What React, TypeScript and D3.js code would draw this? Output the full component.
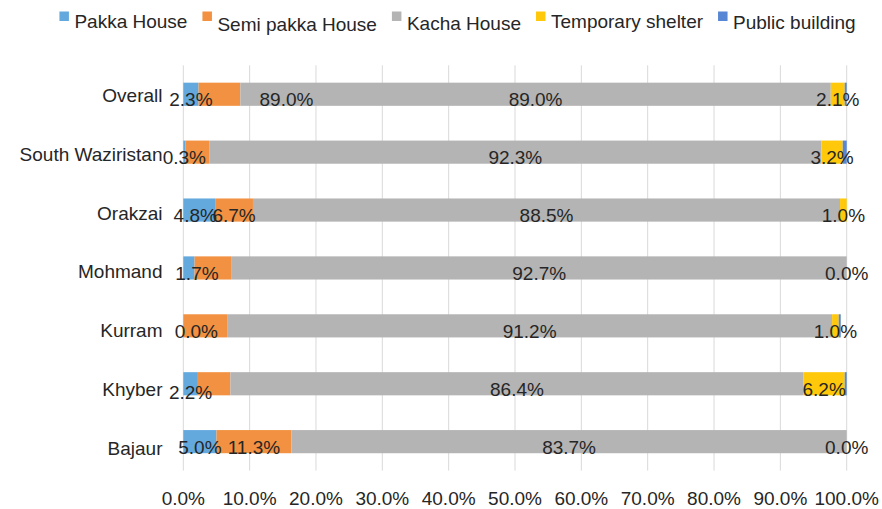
import React, { useEffect, useRef } from "react";
import * as d3 from "d3";

const width = 882;
const height = 509;

const categories = ["Overall", "South Waziristan", "Orakzai", "Mohmand", "Kurram", "Khyber", "Bajaur"];
const seriesNames = ["Pakka House", "Semi pakka House", "Kacha House", "Temporary shelter", "Public building"];
const colors = ["#64a9de", "#f29141", "#b4b4b4", "#ffc80a", "#5686d4"];

// percent of households per house type
const pakka = [2.3, 0.3, 4.8, 1.7, 0.0, 2.2, 5.0];
const semiPakka = [6.3, 3.6, 5.7, 5.6, 6.6, 4.9, 11.3];
const kacha = [89.0, 92.3, 88.5, 92.7, 91.2, 86.4, 83.7];
const temporary = [2.1, 3.2, 1.0, 0.0, 1.0, 6.2, 0.0];
const publicBuilding = [0.3, 0.6, 0.0, 0.0, 0.3, 0.3, 0.0];

// data labels as they appear on the chart (null = no label)
const labelPakka = ["2.3%", "0.3%", "4.8%", "1.7%", "0.0%", "2.2%", "5.0%"];
const labelSemi = ["89.0%", null, "6.7%", null, null, null, "11.3%"];
const labelKacha = ["89.0%", "92.3%", "88.5%", "92.7%", "91.2%", "86.4%", "83.7%"];
const labelTemp = ["2.1%", "3.2%", "1.0%", "0.0%", "1.0%", "6.2%", "0.0%"];
const labelPublic = [null, null, null, null, null, null, null];

const xTicks = [0, 10, 20, 30, 40, 50, 60, 70, 80, 90, 100];

// hand-moved labels in the original
const labelNudges = [
  { cat: "Overall", series: 1, dx: 67, dy: 0 },
  { cat: "Orakzai", series: 0, dx: -4, dy: 0 },
  { cat: "Mohmand", series: 0, dx: 8, dy: 0 },
  { cat: "Kurram", series: 0, dx: 13, dy: 0 },
  { cat: "Khyber", series: 0, dx: 0, dy: 3 },
];
const legendDy = [0, 2.5, 2, -0.5, 0.5];

const font = "'Liberation Sans', Arial, sans-serif";
const textColor = "#262626";

const App = () => {
  const ref = useRef<SVGSVGElement>(null);

  useEffect(() => {
    const svg = d3.select(ref.current);
    svg.selectAll("*").remove();

    const series = [pakka, semiPakka, kacha, temporary, publicBuilding];
    const labels = [labelPakka, labelSemi, labelKacha, labelTemp, labelPublic];

    const rows = categories.map((c, i) => {
      const r: any = { cat: c };
      seriesNames.forEach((s, j) => (r[s] = series[j][i]));
      return r;
    });
    const stacked = d3.stack().keys(seriesNames)(rows);

    const x = d3.scaleLinear().domain([0, 100]).range([183.3, 846.7]);
    const y = d3
      .scaleBand()
      .domain(categories)
      .range([65.3, 470.6])
      .paddingInner(0.6)
      .paddingOuter(0.3);
    const yLabel = d3.scalePoint().domain(categories).range([95.3, 448]);

    // gridlines
    svg
      .append("g")
      .selectAll("line")
      .data(xTicks)
      .join("line")
      .attr("x1", (d) => x(d))
      .attr("x2", (d) => x(d))
      .attr("y1", 65.3)
      .attr("y2", 470.6)
      .attr("stroke", "#d9d9d9")
      .attr("stroke-width", 1);

    // bars
    svg
      .append("g")
      .selectAll("g")
      .data(stacked)
      .join("g")
      .attr("fill", (d, i) => colors[i])
      .selectAll("rect")
      .data((d) => d)
      .join("rect")
      .attr("x", (d) => x(d[0]))
      .attr("width", (d) => Math.max(0, x(d[1]) - x(d[0])))
      .attr("y", (d: any) => y(d.data.cat)!)
      .attr("height", y.bandwidth());

    // x tick labels
    svg
      .append("g")
      .selectAll("text")
      .data(xTicks)
      .join("text")
      .attr("x", (d) => x(d))
      .attr("y", 505)
      .attr("text-anchor", "middle")
      .attr("font-family", font)
      .attr("font-size", 19)
      .attr("fill", textColor)
      .text((d) => d.toFixed(1) + "%");

    // category labels
    svg
      .append("g")
      .selectAll("text")
      .data(categories)
      .join("text")
      .attr("x", 162.5)
      .attr("y", (d) => yLabel(d)! + 6.8)
      .attr("text-anchor", "end")
      .attr("font-family", font)
      .attr("font-size", 19)
      .attr("fill", textColor)
      .text((d) => d);

    // data labels
    const dataLabels: any[] = [];
    stacked.forEach((s, j) => {
      s.forEach((seg: any, i) => {
        const t = labels[j][i];
        if (!t) return;
        const n = labelNudges.find((m) => m.cat === categories[i] && m.series === j);
        dataLabels.push({
          text: t,
          x: x((seg[0] + seg[1]) / 2) + (n ? n.dx : 0),
          y: y(categories[i])! + y.bandwidth() / 2 + 12 + (n ? n.dy : 0),
        });
      });
    });
    svg
      .append("g")
      .selectAll("text")
      .data(dataLabels)
      .join("text")
      .attr("x", (d) => d.x)
      .attr("y", (d) => d.y)
      .attr("text-anchor", "middle")
      .attr("font-family", font)
      .attr("font-size", 19)
      .attr("fill", textColor)
      .text((d) => d.text);

    // legend
    const legend = svg.append("g");
    const items = legend
      .selectAll("g")
      .data(seriesNames)
      .join("g");
    items
      .append("rect")
      .attr("x", 0)
      .attr("y", 11.5)
      .attr("width", 9.5)
      .attr("height", 9.5)
      .attr("fill", (d, i) => colors[i]);
    items
      .append("text")
      .attr("x", 15)
      .attr("y", (d, i) => 28 + legendDy[i])
      .attr("font-family", font)
      .attr("font-size", 19)
      .attr("fill", textColor)
      .text((d) => d);
    const widths: number[] = [];
    items.selectAll("text").each(function () {
      widths.push((this as SVGTextElement).getComputedTextLength() + 15);
    });
    const gap = 15;
    const total = d3.sum(widths) + gap * (widths.length - 1);
    let cx = 457.5 - total / 2;
    items.attr("transform", (d, i) => {
      const t = `translate(${cx},0)`;
      cx += widths[i] + gap;
      return t;
    });
  }, []);

  return (
    <svg
      ref={ref}
      width={width}
      height={height}
      style={{ position: "absolute", left: 0, top: 0, background: "#fff" }}
    />
  );
};

export default App;
